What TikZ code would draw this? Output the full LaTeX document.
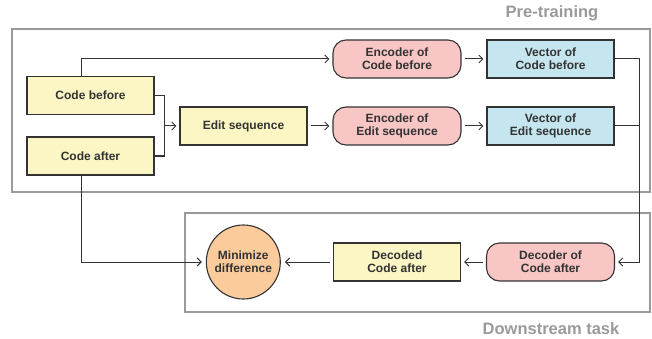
\documentclass[tikz,border=0pt]{standalone}
\usepackage{fontspec}
\setmainfont{Liberation Sans}
\usetikzlibrary{arrows.meta}
\definecolor{txt}{HTML}{333333}
\definecolor{frame}{HTML}{9A9A9A}
\definecolor{yel}{HTML}{FBF6C3}
\definecolor{pnk}{HTML}{F7C6C5}
\definecolor{blu}{HTML}{C5E6EE}
\definecolor{org}{HTML}{FBCB9B}
\tikzset{
  base/.style={draw=txt, line width=1.1pt, text=txt, font=\bfseries\fontsize{12}{13.3}\selectfont, align=center, inner sep=0pt},
  ybox/.style={base, fill=yel, minimum width=127pt, minimum height=38pt},
  pbox/.style={base, fill=pnk, rounded corners=13pt, minimum width=128pt, minimum height=38pt},
  bbox/.style={base, fill=blu, minimum width=127pt, minimum height=38pt},
  cnode/.style={base, circle, fill=org, minimum size=74pt},
  conn/.style={draw=txt, line width=1pt},
  arr/.style={conn, -{Straight Barb[length=4pt,width=8pt,line width=1pt]}},
  grp/.style={draw=frame, line width=1.4pt},
  glabel/.style={text=frame, font=\bfseries\fontsize{16.5}{18}\selectfont, inner sep=0pt}
}
\begin{document}
\begin{tikzpicture}[x=1pt,y=-1pt]
\useasboundingbox (0,0) rectangle (652,339);
% group frames
\draw[grp] (12,29) rectangle (650,192);
\draw[grp] (185,213) rectangle (650,312);
\node[glabel] (lpre) at (552,13) {Pre-training};
\node[glabel] (ldown) at (551,329) {Downstream task};
% nodes
\node[ybox] (cb) at (90.5,95.5) {Code before};
\node[ybox] (ca) at (90.5,156) {Code after};
\node[ybox] (es) at (243.5,126) {Edit sequence};
\node[pbox] (encb) at (397,59) {Encoder of\\Code before};
\node[bbox] (veccb) at (550.5,59) {Vector of\\Code before};
\node[pbox] (enes) at (397,126) {Encoder of\\Edit sequence};
\node[bbox] (veces) at (550.5,126) {Vector of\\Edit sequence};
\node[pbox] (dec) at (550.5,262) {Decoder of\\Code after};
\node[ybox] (dcd) at (397,262) {Decoded\\Code after};
\node[cnode] (mind) at (243.3,262) {Minimize\\difference};
% helper coordinates
\coordinate (j) at (164.5,126);
\coordinate (rr) at (639,126);
% connectors
\draw[arr, shorten >=3pt] ([xshift=-9.5pt]cb.north) |- (encb.west);
\draw[conn] (cb.east) -| (j) |- (ca.east);
\draw[arr, shorten >=3pt] (j) -- (es.west);
\draw[arr, shorten <=3pt, shorten >=3pt] (es.east) -- (enes.west);
\draw[arr, shorten <=3pt, shorten >=3pt] (encb.east) -- (veccb.west);
\draw[arr, shorten <=3pt, shorten >=3pt] (enes.east) -- (veces.west);
\draw[arr, shorten >=3pt] (veccb.east) -| (rr) |- (dec.east);
\draw[conn] (veces.east) -- (rr);
\draw[arr, shorten <=3pt, shorten >=3pt] (dec.west) -- (dcd.east);
\draw[arr, shorten <=3pt, shorten >=4pt] (dcd.west) -- (mind.east);
\draw[arr, shorten >=4pt] ([xshift=-9.5pt]ca.south) |- (mind.west);
\end{tikzpicture}
\end{document}
